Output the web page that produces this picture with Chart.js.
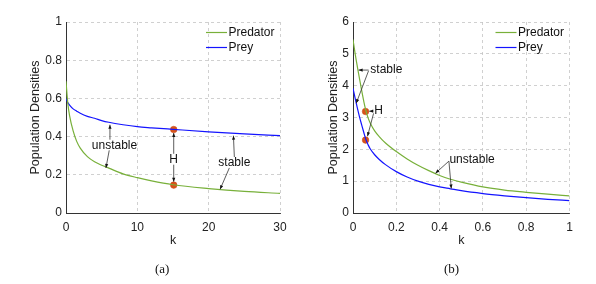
<!DOCTYPE html>
<html>
<head>
<meta charset="utf-8">
<script src="https://cdn.jsdelivr.net/npm/chart.js@4"></script>
<style>
  html, body { margin: 0; padding: 0; background: #fff; }
  #wrap { position: relative; width: 596px; height: 284px; }
  .panel { position: absolute; top: 0; width: 298px; height: 284px; }
  .cap { position: absolute; top: 261px; line-height: 14px; font: 13px "Liberation Serif", serif; color: #111; }
</style>
</head>
<body>
<div id="wrap">
  <div class="panel" style="left:0"><canvas id="chartA"></canvas></div>
  <div class="panel" style="left:298px"><canvas id="chartB"></canvas></div>
  <div class="cap" style="left:155px">(a)</div>
  <div class="cap" style="left:444px">(b)</div>
</div>
<script>
// panel (a)
const kA = [0, 0.25, 0.5, 1, 1.5, 2, 3, 4, 5, 6, 8, 10, 12, 15, 20, 25, 30];
const predA = [0.69, 0.575, 0.51, 0.43, 0.375, 0.34, 0.295, 0.268, 0.25, 0.235, 0.205, 0.185, 0.168, 0.148, 0.128, 0.113, 0.103];
const preyA = [0.598, 0.578, 0.565, 0.545, 0.533, 0.522, 0.506, 0.496, 0.484, 0.475, 0.462, 0.452, 0.446, 0.438, 0.425, 0.414, 0.405];
const hopfA = [{ x: 15.1, y: 0.437 }, { x: 15.1, y: 0.146 }];

// panel (b)
const kB = [0, 0.01, 0.02, 0.03, 0.04, 0.05, 0.06, 0.07, 0.08, 0.1, 0.12, 0.15, 0.2, 0.25, 0.3, 0.35, 0.4, 0.45, 0.5, 0.6, 0.7, 0.8, 0.9, 1];
const predB = [5.45, 5.0, 4.6, 4.22, 3.85, 3.5, 3.2, 2.98, 2.82, 2.58, 2.41, 2.2, 1.93, 1.7, 1.5, 1.33, 1.18, 1.06, 0.97, 0.82, 0.72, 0.65, 0.59, 0.54];
const preyB = [3.92, 3.6, 3.3, 3.02, 2.77, 2.53, 2.3, 2.14, 2.01, 1.83, 1.69, 1.52, 1.3, 1.13, 1.0, 0.9, 0.82, 0.76, 0.7, 0.61, 0.54, 0.48, 0.43, 0.39];
const hopfB = [{ x: 0.058, y: 3.19 }, { x: 0.058, y: 2.29 }];

const FONT = '"Liberation Sans", Arial, sans-serif';
const GREEN = '#78b03a';
const BLUE = '#1414ff';

function drawArrow(ctx, x1, y1, x2, y2) {
  const ang = Math.atan2(y2 - y1, x2 - x1);
  ctx.beginPath();
  ctx.moveTo(x1, y1);
  ctx.lineTo(x2, y2);
  ctx.stroke();
  ctx.beginPath();
  ctx.moveTo(x2, y2);
  ctx.lineTo(x2 - 4 * Math.cos(ang) + 1.6 * Math.sin(ang), y2 - 4 * Math.sin(ang) - 1.6 * Math.cos(ang));
  ctx.lineTo(x2 - 4 * Math.cos(ang) - 1.6 * Math.sin(ang), y2 - 4 * Math.sin(ang) + 1.6 * Math.cos(ang));
  ctx.closePath();
  ctx.fill();
}

// text notes, arrows and the in-plot legend
const notesPlugin = {
  id: 'notes',
  afterDatasetsDraw(chart, args, opts) {
    const { ctx, chartArea, scales: { x, y } } = chart;
    ctx.save();
    ctx.font = '12px ' + FONT;
    ctx.fillStyle = '#111';
    ctx.strokeStyle = '#333';
    ctx.lineWidth = 0.8;
    ctx.textAlign = 'center';
    ctx.textBaseline = 'middle';
    opts.labels.forEach(l => ctx.fillText(l.text, x.getPixelForValue(l.k), y.getPixelForValue(l.v)));
    opts.arrows.forEach(a => drawArrow(ctx, x.getPixelForValue(a[0]), y.getPixelForValue(a[1]),
      x.getPixelForValue(a[2]), y.getPixelForValue(a[3])));

    // legend
    ctx.textAlign = 'left';
    chart.data.datasets.slice(0, 2).forEach((ds, i) => {
      const ly = chartArea.top + 10.5 + i * 15;
      ctx.strokeStyle = ds.borderColor;
      ctx.lineWidth = 1.2;
      ctx.beginPath();
      ctx.moveTo(chartArea.right - 74, ly);
      ctx.lineTo(chartArea.right - 53, ly);
      ctx.stroke();
      ctx.fillStyle = '#111';
      ctx.fillText(ds.label, chartArea.right - 51.5, ly);
    });
    ctx.restore();
  }
};

const fmt = v => String(+v.toFixed(2));

function makeChart(id, k, pred, prey, hopf, xr, yr, lay, notes) {
  const line = (label, vals, color) => ({
    type: 'line',
    label,
    data: k.map((v, i) => ({ x: v, y: vals[i] })),
    borderColor: color,
    borderWidth: 1.2,
    pointRadius: 0,
    cubicInterpolationMode: 'monotone',
    fill: false,
  });
  return new Chart(document.getElementById(id), {
    type: 'scatter',
    data: {
      datasets: [
        line('Predator', pred, GREEN),
        line('Prey', prey, BLUE),
        {
          type: 'scatter',
          label: 'H',
          data: hopf,
          pointRadius: 3.3,
          backgroundColor: '#d95319',
          borderColor: '#c8461a',
          borderWidth: 0.5,
        },
      ],
    },
    options: {
      responsive: true,
      maintainAspectRatio: false,
      animation: false,
      layout: { padding: { top: 22, right: lay.right, left: 0, bottom: 0 } },
      plugins: {
        legend: { display: false },
        tooltip: { enabled: false },
        notes,
      },
      scales: {
        x: {
          type: 'linear',
          min: xr[0], max: xr[1],
          afterFit: s => { s.height = 71; },
          ticks: { stepSize: xr[2], padding: 7, color: '#222', font: { family: FONT, size: 12 }, callback: fmt },
          grid: { color: '#c4c4c4', lineWidth: 0.8, drawTicks: false },
          border: { color: '#333', width: 1, dash: [3, 3] },
          title: { display: true, text: 'k', color: '#222', font: { family: FONT, size: 12.5 }, padding: { top: 0, bottom: 35.8 } },
        },
        y: {
          min: yr[0], max: yr[1],
          afterFit: s => { s.width = lay.left; },
          ticks: { stepSize: yr[2], padding: 4, color: '#222', font: { family: FONT, size: 12 }, callback: fmt },
          grid: { color: '#c4c4c4', lineWidth: 0.8, drawTicks: false },
          border: { color: '#333', width: 1, dash: [3, 3] },
          title: { display: true, text: 'Population Densities', color: '#222', font: { family: FONT, size: 12.5 }, padding: { top: lay.title, bottom: 0 } },
        },
      },
    },
    plugins: [notesPlugin],
  });
}

makeChart('chartA', kA, predA, preyA, hopfA, [0, 30, 10], [0, 1, 0.2],
  { left: 66, right: 18, title: 28.5 },
  {
    labels: [
      { text: 'unstable', k: 6.8, v: 0.354 },
      { text: 'H', k: 15.07, v: 0.28 },
      { text: 'stable', k: 23.6, v: 0.262 },
    ],
    arrows: [
      [6.16, 0.384, 6.16, 0.462],
      [6.06, 0.328, 5.6, 0.236],
      [15.1, 0.31, 15.1, 0.419],
      [15.1, 0.253, 15.1, 0.164],
      [23.6, 0.293, 23.47, 0.405],
      [22.9, 0.236, 21.6, 0.124],
    ],
  });

makeChart('chartB', kB, predB, preyB, hopfB, [0, 1, 0.2], [0, 6, 1],
  { left: 55, right: 26.5, title: 28 },
  {
    labels: [
      { text: 'stable', k: 0.154, v: 4.49 },
      { text: 'H', k: 0.118, v: 3.2 },
      { text: 'unstable', k: 0.55, v: 1.68 },
    ],
    arrows: [
      [0.072, 4.49, 0.026, 4.49],
      [0.072, 4.47, 0.015, 3.45],
      [0.094, 3.2, 0.075, 3.2],
      [0.095, 3.13, 0.067, 2.41],
      [0.443, 1.63, 0.381, 1.25],
      [0.443, 1.63, 0.454, 0.77],
    ],
  });
</script>
</body>
</html>
